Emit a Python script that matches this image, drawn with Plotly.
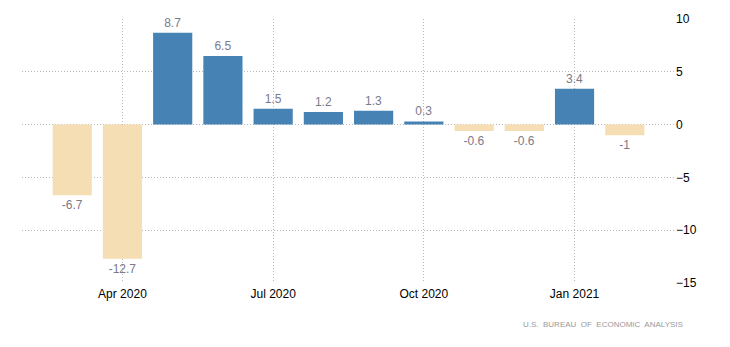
import plotly.graph_objects as go

months = ["Mar 2020", "Apr 2020", "May 2020", "Jun 2020", "Jul 2020", "Aug 2020",
          "Sep 2020", "Oct 2020", "Nov 2020", "Dec 2020", "Jan 2021", "Feb 2021"]
values = [-6.7, -12.7, 8.7, 6.5, 1.5, 1.2, 1.3, 0.3, -0.6, -0.6, 3.4, -1]
tick_labels = ["Apr 2020", "Jul 2020", "Oct 2020", "Jan 2021"]
y_ticks = [10, 5, 0, -5, -10, -15]

colors = ["#4682B4" if v >= 0 else "#F5DEB3" for v in values]
labels = [f"{v:g}" for v in values]

fig = go.Figure(go.Bar(
    x=months, y=values, marker=dict(color=colors, line=dict(width=0)),
    text=labels, textposition="outside", cliponaxis=False,
    textfont=dict(color="#7a7a8a", size=12, family="Liberation Sans"),
    hoverinfo="skip",
))

fig.update_layout(
    width=730, height=347,
    margin=dict(l=22, r=55, t=19, b=64),
    paper_bgcolor="white", plot_bgcolor="white",
    bargap=0.22, showlegend=False,
    font=dict(family="Liberation Sans", size=12, color="#000"),
)
fig.update_xaxes(
    type="category", categoryorder="array", categoryarray=months,
    range=[-1, 12], tickmode="array", tickvals=tick_labels, ticktext=tick_labels,
    showgrid=True, gridcolor="#b8b8b8", griddash="1px,2px", gridwidth=1,
    ticks="", showline=False, zeroline=False, ticklabelstandoff=2,
)
fig.update_yaxes(
    side="right", range=[-15, 10], tickmode="array", tickvals=y_ticks,
    showgrid=True, gridcolor="#b8b8b8", griddash="1px,2px", gridwidth=1,
    zeroline=False, ticks="", showline=False,
)
fig.add_annotation(
    text="U.S.  BUREAU  OF  ECONOMIC  ANALYSIS", xref="paper", yref="paper",
    x=1.015, y=-0.159, xanchor="right", yanchor="middle", showarrow=False,
    font=dict(size=8, color="#999999", family="Liberation Sans"),
)

fig.write_html("out.html")
